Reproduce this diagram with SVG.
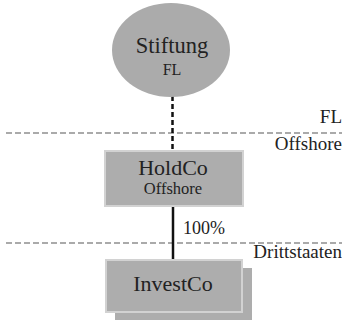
<svg xmlns="http://www.w3.org/2000/svg" width="342" height="320" viewBox="0 0 342 320">
<style>
text{font-family:"Liberation Serif","DejaVu Serif",serif;fill:#222}
.sep{stroke:#aaaaaa;stroke-width:2;stroke-dasharray:6 3;fill:none}
.box{fill:#adadad;stroke:#d2d2d2;stroke-width:2}
.lbl{font-size:19px;text-anchor:end}
</style>
<rect width="342" height="320" fill="#ffffff"/>
<g id="zones">
<line class="sep" x1="6" y1="133" x2="342" y2="133"/>
<line class="sep" x1="6" y1="243" x2="342" y2="243"/>
<text class="lbl" x="342" y="123">FL</text>
<text class="lbl" x="342" y="150">Offshore</text>
<text class="lbl" x="342" y="258">Drittstaaten</text>
</g>
<g id="connectors">
<line x1="172.5" y1="96" x2="172.5" y2="151" stroke="#111" stroke-width="2.5" stroke-dasharray="5 3"/>
<line x1="173" y1="206" x2="173" y2="260" stroke="#111" stroke-width="2.5"/>
<text x="183" y="234" font-size="18">100%</text>
</g>
<g id="stiftung">
<ellipse cx="171" cy="50" rx="59" ry="47" fill="#ababab"/>
<text x="172" y="53" font-size="22.5" text-anchor="middle">Stiftung</text>
<text x="172" y="75" font-size="16" text-anchor="middle">FL</text>
</g>
<g id="holdco">
<rect class="box" x="105" y="151" width="138" height="55"/>
<text x="173" y="175" font-size="22" text-anchor="middle">HoldCo</text>
<text x="173" y="194" font-size="16.5" text-anchor="middle">Offshore</text>
</g>
<g id="investco">
<rect x="115" y="268" width="137" height="60" fill="#adadad"/>
<rect class="box" x="106" y="260" width="136" height="52"/>
<text x="173" y="291" font-size="22" text-anchor="middle">InvestCo</text>
</g>
</svg>
